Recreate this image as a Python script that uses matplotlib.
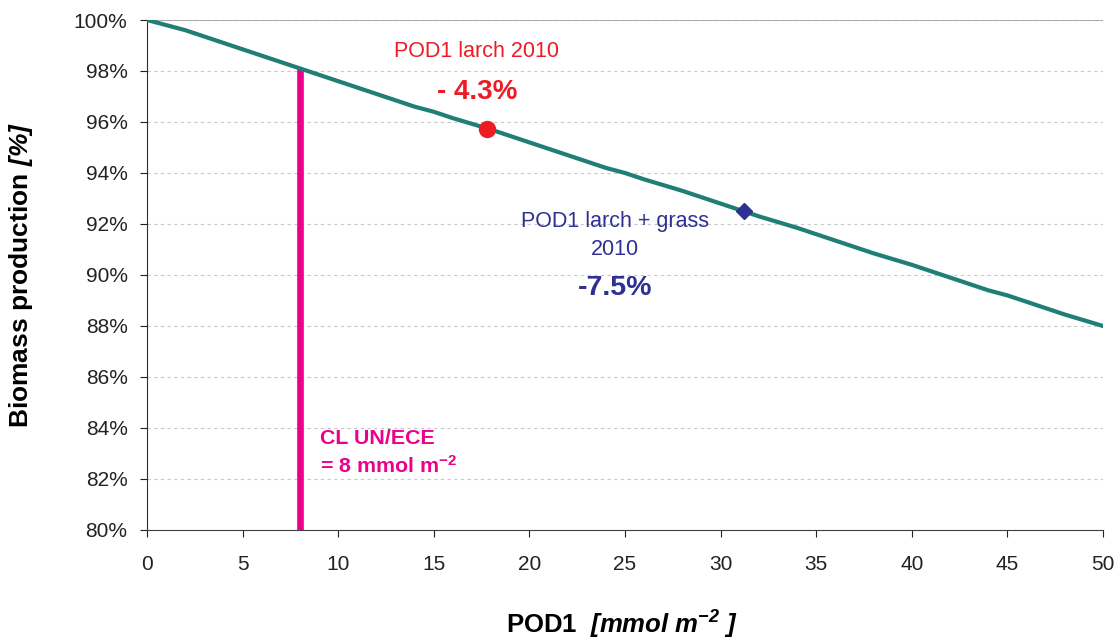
import matplotlib.pyplot as plt
from matplotlib.ticker import FuncFormatter

plt.rcParams['font.family'] = ['Liberation Sans', 'DejaVu Sans']
plt.rcParams['mathtext.fontset'] = 'custom'
plt.rcParams['mathtext.rm'] = 'Liberation Sans'
plt.rcParams['mathtext.bf'] = 'Liberation Sans:bold'
plt.rcParams['mathtext.it'] = 'Liberation Sans:italic'
plt.rcParams['mathtext.bfit'] = 'Liberation Sans:bold:italic'

# POD1 (mmol m-2) vs relative biomass production (%)
pod1 = [0, 2, 4, 5, 6, 8, 10, 11, 12, 14, 15, 16, 18, 20, 22, 24, 25, 26,
        28, 30, 32, 34, 35, 36, 38, 40, 42, 44, 45, 46, 48, 50]
biomass = [100.0, 99.6, 99.1, 98.85, 98.6, 98.1, 97.6, 97.35, 97.1, 96.6,
           96.4, 96.15, 95.7, 95.2, 94.7, 94.2, 94.0, 93.75, 93.3, 92.8,
           92.3, 91.85, 91.6, 91.35, 90.85, 90.4, 89.9, 89.4, 89.2, 88.95,
           88.45, 88.0]

cl_x = 8
cl_top = 98.1
larch = (17.8, 95.73)
larch_grass = (31.2, 92.5)

fig = plt.figure(figsize=(11.2, 6.39), dpi=100)
ax = fig.add_axes([0.1313, 0.1706, 0.8535, 0.7981])

ax.set_xlim(0, 50)
ax.set_ylim(80, 100)
ax.set_xticks(range(0, 51, 5))
ax.set_yticks(range(80, 101, 2))
ax.yaxis.set_major_formatter(FuncFormatter(lambda v, p: f'{v:.0f}%'))
ax.grid(axis='y', color='#c8c8c8', linestyle=(0, (3, 3)), linewidth=0.8)
ax.set_axisbelow(True)

for s in ['top', 'right']:
    ax.spines[s].set_visible(False)
ax.axhline(100, color='#a0a0a0', linewidth=1.2, zorder=1)
ax.spines['left'].set_color('#303030')
ax.spines['bottom'].set_color('#404040')
ax.tick_params(labelsize=15, colors='#222222', length=5)
ax.tick_params(axis='y', pad=9)
ax.tick_params(axis='x', pad=13)

ax.plot([cl_x, cl_x], [80, cl_top], color='#ec008c', linewidth=4.8, zorder=2,
        solid_capstyle='butt')
ax.plot(pod1, biomass, color='#1f7f74', linewidth=3, zorder=3)
ax.plot(*larch, 'o', color='#ed1c24', markersize=11.5, zorder=4)
ax.plot(*larch_grass, 'D', color='#2e3192', markersize=8, zorder=4)

ax.text(17.24, 98.75, 'POD1 larch 2010', color='#ed1c24', fontsize=15.5,
        ha='center', va='center')
ax.text(17.26, 97.18, '- 4.3%', color='#ed1c24', fontsize=20,
        fontweight='bold', ha='center', va='center')
ax.text(24.48, 92.1, 'POD1 larch + grass', color='#2e3192', fontsize=15.5,
        ha='center', va='center')
ax.text(24.48, 91.0, '2010', color='#2e3192', fontsize=15.5,
        ha='center', va='center')
ax.text(24.48, 89.5, '-7.5%', color='#2e3192', fontsize=20.5,
        fontweight='bold', ha='center', va='center')
ax.text(9.05, 83.6, 'CL UN/ECE', color='#ec008c', fontsize=15.4,
        fontweight='bold', ha='left', va='center')
ax.text(9.05, 82.5, r'= 8 mmol m$^{\mathbf{-2}}$', color='#ec008c',
        fontsize=15.4, fontweight='bold', ha='left', va='center')

ax.set_ylabel(r'Biomass production $\mathbfit{[\%]}$', fontsize=19,
              fontweight='bold')
ax.yaxis.set_label_coords(-0.117, 0.5)
ax.set_xlabel(r'POD1  $\mathbfit{[mmol\ m^{-2}\ ]}$', fontsize=18.5,
              fontweight='bold')
ax.xaxis.set_label_coords(0.497, -0.155)

fig.savefig('out.png', dpi=100)
